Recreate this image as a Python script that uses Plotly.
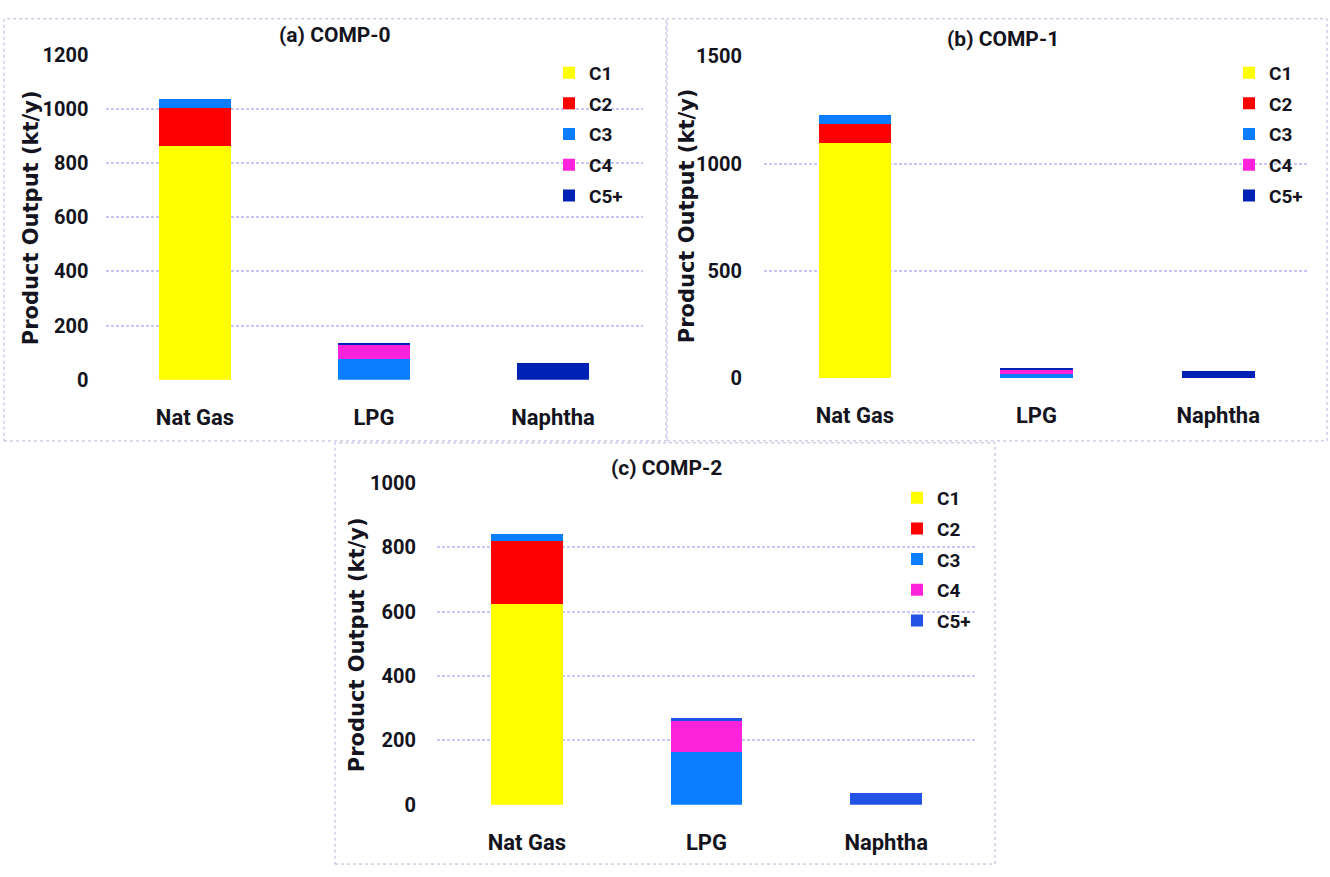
import plotly.graph_objects as go

W, H = 1330, 877

categories = ["Nat Gas", "LPG", "Naphtha"]
series = ["C1", "C2", "C3", "C4", "C5+"]

# panel (a) COMP-0
comp0_C1 = [865, 0, 0]
comp0_C2 = [140, 0, 0]
comp0_C3 = [33, 77, 0]
comp0_C4 = [0, 54, 0]
comp0_C5 = [0, 5, 62]

# panel (b) COMP-1
comp1_C1 = [1098, 0, 0]
comp1_C2 = [87, 0, 0]
comp1_C3 = [44, 19, 0]
comp1_C4 = [0, 18, 0]
comp1_C5 = [0, 5, 33]

# panel (c) COMP-2
comp2_C1 = [625, 0, 0]
comp2_C2 = [194, 0, 0]
comp2_C3 = [23, 163, 0]
comp2_C4 = [0, 98, 0]
comp2_C5 = [0, 8, 37]

titles = ["(a) COMP-0", "(b) COMP-1", "(c) COMP-2"]
y_ranges = [[0, 1200], [0, 1500], [0, 1000]]
y_dticks = [200, 500, 200]
y_title = "Product Output (kt/y)"

colors_ab = ["#FFFF00", "#FF0000", "#0A7EFF", "#FF22DD", "#0022B4"]
colors_c = ["#FFFF00", "#FF0000", "#0A7EFF", "#FF22DD", "#2352E6"]

FONT = "Roboto, Liberation Sans, sans-serif"
TXT = "#141420"

def xp(px):
    return px / W

def yp(py):
    return 1 - py / H

# panel geometry in pixels: (x0, x1, ytop, ybottom)
panels = [
    (105.5, 642.5, 44.3, 378.0),
    (764.0, 1309.0, 45.7, 376.7),
    (437.0, 976.0, 484.3, 815.0),
]
legend_pos = [(549, 43), (1229, 43), (897, 480)]
title_pos = [(335, 24), (1003, 28), (666, 469)]
ytitle_pos = [(31, 212), (687, 210), (357, 651)]
tick_standoff = [16, 21, 20]
borders = [(4, 7, 666, 441), (667, 7, 1327, 441), (335, 443, 995, 876)]

data_sets = [
    [comp0_C1, comp0_C2, comp0_C3, comp0_C4, comp0_C5],
    [comp1_C1, comp1_C2, comp1_C3, comp1_C4, comp1_C5],
    [comp2_C1, comp2_C2, comp2_C3, comp2_C4, comp2_C5],
]
color_sets = [colors_ab, colors_ab, colors_c]

fig = go.Figure()
for p in range(3):
    suffix = "" if p == 0 else str(p + 1)
    leg = "legend" + suffix
    for s, name in enumerate(series):
        fig.add_trace(go.Bar(
            x=categories, y=data_sets[p][s], name=name,
            marker=dict(color=color_sets[p][s], line=dict(width=0)),
            xaxis="x" + suffix, yaxis="y" + suffix,
            legend=leg, legendgroup=f"{p}-{name}",
        ))

layout = dict(
    width=W, height=H, margin=dict(l=0, r=0, t=0, b=0),
    plot_bgcolor="white", paper_bgcolor="white",
    barmode="stack", bargap=0.6, showlegend=True,
    font=dict(family=FONT, color=TXT),
)
shapes = []
annotations = []
for p in range(3):
    suffix = "" if p == 0 else str(p + 1)
    x0, x1, yt, yb = panels[p]
    layout["xaxis" + suffix] = dict(
        domain=[xp(x0), xp(x1)], anchor="y" + suffix,
        showgrid=False, zeroline=False, showline=False, ticks="",
        tickfont=dict(family=FONT, size=22, weight="bold", color=TXT),
        ticklabelstandoff=22, fixedrange=True,
    )
    layout["yaxis" + suffix] = dict(
        domain=[yp(yb), yp(yt)], anchor="x" + suffix,
        range=y_ranges[p], dtick=y_dticks[p], tick0=0,
        showgrid=True, gridcolor="#C8C8F8", gridwidth=1.6, griddash="3px,2px",
        zeroline=False, showline=False, ticks="",
        tickfont=dict(family=FONT, size=20, weight="bold", color=TXT),
        ticklabelstandoff=tick_standoff[p], fixedrange=True,
    )
    lx, ly = legend_pos[p]
    layout["legend" + suffix] = dict(
        x=xp(lx), y=yp(ly), xanchor="left", yanchor="top",
        xref="paper", yref="paper",
        bgcolor="rgba(0,0,0,0)", borderwidth=0,
        font=dict(family=FONT, size=19, weight="bold", color=TXT),
        traceorder="grouped", tracegroupgap=3, itemwidth=30,
    )
    tx, ty = title_pos[p]
    annotations.append(dict(
        text=titles[p], x=xp(tx), y=yp(ty), xref="paper", yref="paper",
        xanchor="center", yanchor="middle", showarrow=False,
        font=dict(family=FONT, size=21, weight="bold", color=TXT),
    ))
    ax, ay = ytitle_pos[p]
    annotations.append(dict(
        text=y_title, x=xp(ax), y=yp(ay), xref="paper", yref="paper",
        xanchor="center", yanchor="middle", showarrow=False, textangle=-90,
        font=dict(family="DejaVu Sans", size=21, weight="bold", color=TXT),
    ))
    bx0, by0, bx1, by1 = borders[p]
    shapes.append(dict(
        type="rect", xref="paper", yref="paper",
        x0=xp(bx0), x1=xp(bx1), y0=yp(by1), y1=yp(by0),
        line=dict(color="#B4B4DC", width=1, dash="dot"),
        fillcolor="rgba(0,0,0,0)", layer="below",
    ))

layout["shapes"] = shapes
layout["annotations"] = annotations
fig.update_layout(**layout)

fig.write_html("out.html")
